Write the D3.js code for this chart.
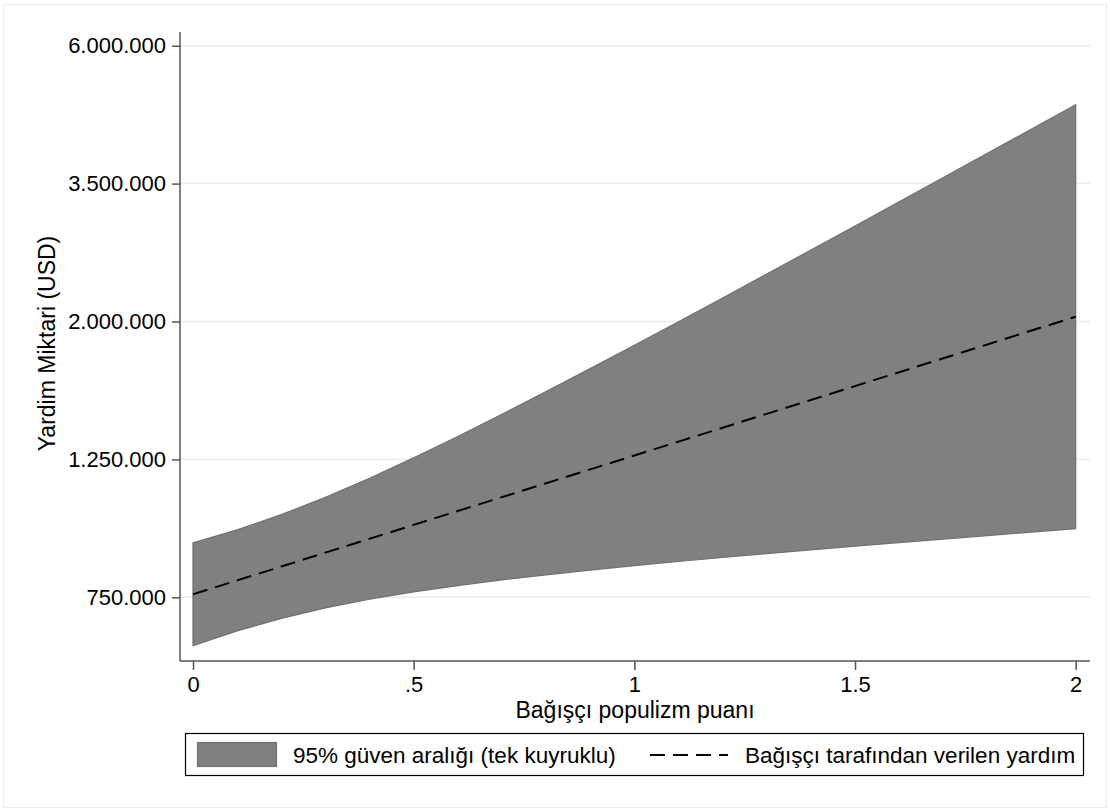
<!DOCTYPE html>
<html>
<head>
<meta charset="utf-8">
<script src="https://cdn.jsdelivr.net/npm/d3@7"></script>
<style>
  body { margin: 0; background: #fff; }
  text { font-family: 'Liberation Sans', Arial, sans-serif; fill: #000; }
</style>
</head>
<body>
<div id="chart"></div>
<script>
const xValues = [0, 0.1, 0.2, 0.3, 0.4, 0.5, 0.6, 0.7, 0.8, 0.9, 1, 1.1, 1.2, 1.3, 1.4, 1.5, 1.6, 1.7, 1.8, 1.9, 2]
const predicted = [737410, 775470, 815500, 857600, 901870, 948420, 997380, 1048860, 1102980, 1159920,
                   1219800, 1282770, 1348980, 1418610, 1491830, 1568840, 1649830, 1734980, 1824520, 1918710, 2017750]
const upperCI = [888780, 931410, 984190, 1047880, 1122910, 1209210, 1306830, 1416080, 1537430, 1671480,
                 1819100, 1981450, 2159650, 2355010, 2569200, 2803530, 3060070, 3340970, 3648290, 3984350, 4352150]
const lowerCI = [611830, 645650, 675740, 701860, 724330, 743870, 761200, 776870, 791340, 804950,
                 817930, 830450, 842620, 854560, 866280, 877930, 889490, 900990, 912460, 923990, 935490]

const xTicks = [0, 0.5, 1, 1.5, 2]
const xTickLabels = ['0', '.5', '1', '1.5', '2']
const yTickPos = [729416, 1202604, 1982759, 3269017, 5389698]
const yTickLabels = ['750.000', '1.250.000', '2.000.000', '3.500.000', '6.000.000']

const W = 1110
const H = 811
const plot = { left: 180, right: 1090, top: 32, bottom: 661 }

const svg = d3.select('#chart').append('svg')
                               .attr('width', W)
                               .attr('height', H)

svg.append('rect')
     .attr('x', 3.5).attr('y', 4.5)
     .attr('width', W - 7).attr('height', H - 8)
     .attr('fill', '#fff')
     .attr('stroke', '#ececec')

const x = d3.scaleLinear().domain([0, 2]).range([193, 1075.7])
const y = d3.scaleLog().base(Math.E).domain([yTickPos[0], yTickPos[4]]).range([597.3, 45.7])

// grid
svg.append('g')
   .selectAll('line')
   .data(yTickPos)
   .enter()
     .append('line')
     .attr('x1', plot.left)
     .attr('x2', plot.right)
     .attr('y1', d => y(d))
     .attr('y2', d => y(d))
     .attr('stroke', '#eaeaea')
     .attr('stroke-width', 1.5)

const rows = xValues.map((d, i) => ({ x: d, mid: predicted[i], lo: lowerCI[i], hi: upperCI[i] }))

svg.append('path')
     .datum(rows)
     .attr('d', d3.area().x(d => x(d.x)).y0(d => y(d.lo)).y1(d => y(d.hi)))
     .attr('fill', '#808080')
     .attr('stroke', '#707070')
     .attr('stroke-width', 1.2)

svg.append('path')
     .datum(rows)
     .attr('d', d3.line().x(d => x(d.x)).y(d => y(d.mid)))
     .attr('fill', 'none')
     .attr('stroke', '#000')
     .attr('stroke-width', 2)
     .attr('stroke-dasharray', '15,8')

// axes
const yAxis = svg.append('g')
                 .attr('transform', `translate(${plot.left},0)`)
                 .call(d3.axisLeft(y).tickValues(yTickPos).tickFormat((d, i) => yTickLabels[i]).tickSize(8).tickPadding(6))
yAxis.select('.domain').remove()
yAxis.append('line')
       .attr('y1', plot.top).attr('y2', plot.bottom)
       .attr('stroke', '#555').attr('stroke-width', 1.5)

const xAxis = svg.append('g')
                 .attr('transform', `translate(0,${plot.bottom})`)
                 .call(d3.axisBottom(x).tickValues(xTicks).tickFormat((d, i) => xTickLabels[i]).tickSize(9).tickPadding(6))
xAxis.select('.domain').remove()
xAxis.append('line')
       .attr('x1', plot.left).attr('x2', plot.right)
       .attr('stroke', '#555').attr('stroke-width', 1.5)

svg.selectAll('.tick line').attr('stroke', '#555').attr('stroke-width', 1.5)
svg.selectAll('.tick text').style('font-size', '22px').attr('fill', '#000')
   .style('font-family', "'Liberation Sans', Arial, sans-serif")

svg.append('text')
     .attr('x', (plot.left + plot.right) / 2)
     .attr('y', 718)
     .attr('text-anchor', 'middle')
     .style('font-size', '23px')
     .text('Bağışçı populizm puanı')

svg.append('text')
     .attr('transform', `translate(55,${(plot.top + plot.bottom) / 2 - 3}) rotate(-90)`)
     .attr('text-anchor', 'middle')
     .style('font-size', '23px')
     .text('Yardim Miktari (USD)')

// legend
const lg = svg.append('g')
lg.append('rect')
    .attr('x', 185.5).attr('y', 733.5)
    .attr('width', 898).attr('height', 42)
    .attr('fill', '#fff').attr('stroke', '#000').attr('stroke-width', 1.2)
lg.append('rect')
    .attr('x', 197.5).attr('y', 742.5)
    .attr('width', 79).attr('height', 24)
    .attr('fill', '#808080').attr('stroke', '#707070').attr('stroke-width', 1.2)
lg.append('text')
    .attr('x', 293).attr('y', 763)
    .style('font-size', '22.5px')
    .text('95% güven aralığı (tek kuyruklu)')
lg.append('line')
    .attr('x1', 650).attr('x2', 728)
    .attr('y1', 755).attr('y2', 755)
    .attr('stroke', '#000').attr('stroke-width', 2)
    .attr('stroke-dasharray', '15,8')
lg.append('text')
    .attr('x', 745).attr('y', 763)
    .style('font-size', '22.5px')
    .text('Bağışçı tarafından verilen yardım')
</script>
</body>
</html>
